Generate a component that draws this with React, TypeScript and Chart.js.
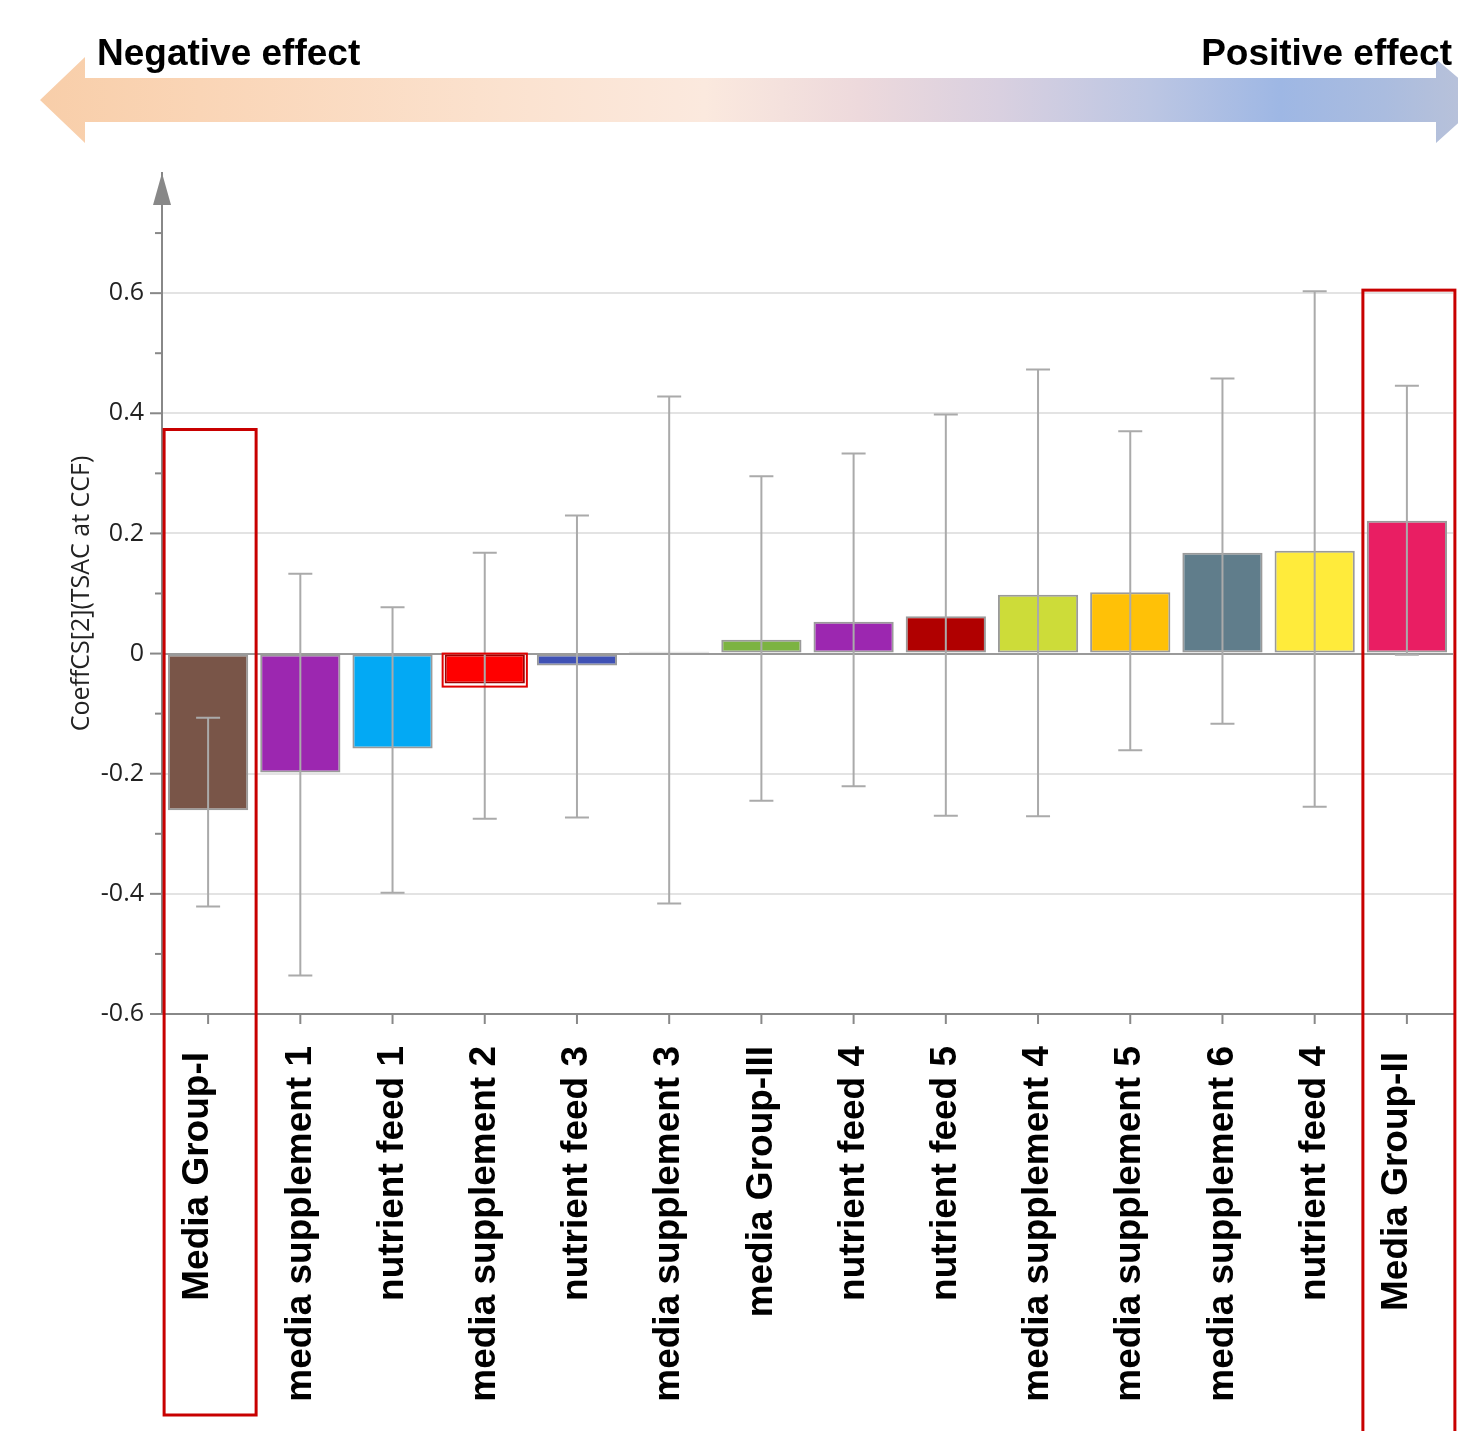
import React, { useEffect, useRef } from "react";
import { Chart, registerables } from "chart.js";

Chart.register(...registerables);

// ---------- data ----------
const categories = [
  "Media Group-I",
  "media supplement 1",
  "nutrient feed 1",
  "media supplement 2",
  "nutrient feed 3",
  "media supplement 3",
  "media Group-III",
  "nutrient feed 4",
  "nutrient feed 5",
  "media supplement 4",
  "media supplement 5",
  "media supplement 6",
  "nutrient feed 4",
  "Media Group-II",
];
const coefficients = [
  -0.261, -0.198, -0.158, -0.05, -0.02, 0.003, 0.023, 0.053, 0.062, 0.098, 0.102, 0.168, 0.171, 0.221,
];
const errorLow = [
  -0.421, -0.536, -0.398, -0.275, -0.273, -0.416, -0.245, -0.221, -0.27, -0.271, -0.161, -0.117, -0.255, -0.002,
];
const errorHigh = [
  -0.107, 0.133, 0.077, 0.168, 0.23, 0.428, 0.295, 0.333, 0.398, 0.473, 0.37, 0.458, 0.603, 0.446,
];
const barColors = [
  "#795548", "#9C27B0", "#03A9F4", "#FF0000", "#3F51B5", "#9E9E9E", "#7CB342",
  "#9C27B0", "#B00000", "#CDDC39", "#FFC107", "#607D8B", "#FFEB3B", "#E91E63",
];
const highlightedIndex = [0, 13];
const highlightTop = [0.373, 0.605];
const outlinedIndex = 3;
const yMin = -0.6;
const yMax = 0.8;
const yStep = 0.1;
const yTitle = "CoeffCS[2](TSAC at CCF)";
const negativeLabel = "Negative effect";
const positiveLabel = "Positive effect";

const LABEL_FONT = 'bold 37px "Liberation Sans", Arial, sans-serif';

const decorPlugin = {
  id: "decor",
  afterDatasetsDraw(chart: any) {
    const ctx = chart.ctx;
    const y = chart.scales.y;
    const meta = chart.getDatasetMeta(0);
    ctx.save();
    // error bars
    ctx.strokeStyle = "#aaaaaa";
    ctx.lineWidth = 2;
    meta.data.forEach((bar: any, i: number) => {
      const x = bar.x;
      const yh = y.getPixelForValue(errorHigh[i]);
      const yl = y.getPixelForValue(errorLow[i]);
      ctx.beginPath();
      ctx.moveTo(x, yh);
      ctx.lineTo(x, yl);
      ctx.moveTo(x - 12, yh);
      ctx.lineTo(x + 12, yh);
      ctx.moveTo(x - 12, yl);
      ctx.lineTo(x + 12, yl);
      ctx.stroke();
    });
    // outline around media supplement 2
    const ob = meta.data[outlinedIndex];
    if (ob) {
      const top = Math.min(ob.y, ob.base);
      const h = Math.abs(ob.base - ob.y);
      ctx.strokeStyle = "#E00000";
      ctx.lineWidth = 2;
      ctx.strokeRect(ob.x - ob.width / 2 - 2, top - 1, ob.width + 4, h + 4);
    }
    ctx.restore();
  },
  afterDraw(chart: any) {
    const ctx = chart.ctx;
    const xs = chart.scales.x;
    const ys = chart.scales.y;
    const area = chart.chartArea;
    ctx.save();

    // y tick marks
    ctx.strokeStyle = "#888888";
    ctx.lineWidth = 2;
    ys.ticks.forEach((t: any) => {
      const k = Math.round(t.value * 10);
      if (t.value > yMax - 0.05) return;
      const py = ys.getPixelForValue(t.value);
      const len = k % 2 === 0 ? 12 : 7;
      ctx.beginPath();
      ctx.moveTo(area.left - len, py);
      ctx.lineTo(area.left, py);
      ctx.stroke();
    });
    // y axis arrow head
    ctx.fillStyle = "#888888";
    ctx.beginPath();
    ctx.moveTo(area.left, area.top);
    ctx.lineTo(area.left - 9, area.top + 32);
    ctx.lineTo(area.left + 9, area.top + 32);
    ctx.closePath();
    ctx.fill();

    // x tick marks and labels
    categories.forEach((label, i) => {
      const px = xs.getPixelForTick(i);
      ctx.strokeStyle = "#888888";
      ctx.lineWidth = 2;
      ctx.beginPath();
      ctx.moveTo(px, area.bottom);
      ctx.lineTo(px, area.bottom + 10);
      ctx.stroke();
      const isHi = highlightedIndex.includes(i);
      ctx.save();
      ctx.translate(px + (isHi ? -10 : 0), area.bottom + (isHi ? 38 : 32));
      ctx.rotate(-Math.PI / 2);
      ctx.font = LABEL_FONT;
      ctx.fillStyle = "#000000";
      ctx.textAlign = "right";
      ctx.textBaseline = "middle";
      ctx.fillText(label, 0, 0);
      ctx.restore();
    });

    // red highlight boxes
    ctx.strokeStyle = "#C80000";
    ctx.lineWidth = 3;
    highlightedIndex.forEach((idx, j) => {
      const px = xs.getPixelForTick(idx);
      const top = ys.getPixelForValue(highlightTop[j]);
      const bottom = j === 0 ? chart.height - 16 : chart.height + 10;
      ctx.strokeRect(px - 44, top, 92, bottom - top);
    });

    // top arrow
    const cy = 100;
    const g = ctx.createLinearGradient(40, 0, 1485, 0);
    g.addColorStop(0, "#F8CEA9");
    g.addColorStop(0.11, "#FAD5B6");
    g.addColorStop(0.32, "#FBE2CF");
    g.addColorStop(0.46, "#FBE9DE");
    g.addColorStop(0.567, "#EDD9DC");
    g.addColorStop(0.664, "#D9D0E0");
    g.addColorStop(0.768, "#BCC6E3");
    g.addColorStop(0.858, "#9EB7E4");
    g.addColorStop(0.93, "#AABCDF");
    g.addColorStop(1, "#BCC3D8");
    ctx.fillStyle = g;
    ctx.beginPath();
    ctx.moveTo(40, cy);
    ctx.lineTo(85, cy - 43);
    ctx.lineTo(85, cy - 22);
    ctx.lineTo(1436, cy - 22);
    ctx.lineTo(1436, cy - 41);
    ctx.lineTo(1484, cy);
    ctx.lineTo(1436, cy + 43);
    ctx.lineTo(1436, cy + 22);
    ctx.lineTo(85, cy + 22);
    ctx.lineTo(85, cy + 43);
    ctx.closePath();
    ctx.fill();

    ctx.font = LABEL_FONT;
    ctx.fillStyle = "#000000";
    ctx.textBaseline = "alphabetic";
    ctx.textAlign = "left";
    ctx.fillText(negativeLabel, 97, 65);
    ctx.textAlign = "right";
    ctx.fillText(positiveLabel, 1452, 65);

    ctx.restore();
  },
};

export default function App() {
  const ref = useRef<HTMLCanvasElement | null>(null);
  useEffect(() => {
    if (!ref.current) return;
    const chart = new Chart(ref.current, {
      type: "bar",
      data: {
        labels: categories,
        datasets: [
          {
            data: coefficients,
            backgroundColor: barColors,
            borderColor: barColors.map((_, i) => (i === outlinedIndex ? "#A00000" : "#9a9a9a")),
            borderWidth: 2,
            borderSkipped: false,
            barPercentage: 0.87,
            categoryPercentage: 1,
          },
        ],
      },
      options: {
        animation: false,
        responsive: false,
        devicePixelRatio: 1,
        layout: { padding: { top: 173, right: 5, left: 0, bottom: 0 } },
        plugins: { legend: { display: false }, tooltip: { enabled: false }, title: { display: false } },
        scales: {
          x: {
            grid: { display: false, drawTicks: false },
            border: { display: true, color: "#888888", width: 2 },
            ticks: { display: false },
            afterFit: (s: any) => {
              s.height = 1431 - 1014;
            },
          },
          y: {
            min: yMin,
            max: yMax,
            afterFit: (s: any) => {
              s.width = 162;
            },
            border: { display: true, color: "#888888", width: 2 },
            grid: {
              drawTicks: false,
              lineWidth: 2,
              color: (c: any) => {
                const v = c.tick ? c.tick.value : 0;
                const k = Math.round(v * 10);
                if (k === 0) return "#9a9a9a";
                if (k % 2 === 0 && v < yMax - 0.05) return "#e3e3e3";
                return "rgba(0,0,0,0)";
              },
            },
            ticks: {
              stepSize: yStep,
              autoSkip: false,
              padding: 18,
              color: "#222222",
              font: { family: '"Open Sans", sans-serif', size: 25 },
              callback: (v: any) => {
                const k = Math.round(Number(v) * 10);
                if (k % 2 !== 0 || Number(v) > yMax - 0.05) return "";
                return String(k / 10);
              },
            },
            title: {
              display: true,
              text: yTitle,
              color: "#222222",
              font: { family: '"Open Sans", sans-serif', size: 25 },
              padding: { top: 67, bottom: 0 },
            },
          },
        },
      },
      plugins: [decorPlugin],
    });
    return () => chart.destroy();
  }, []);
  return (
    <div style={{ position: "absolute", left: 0, top: 0, width: 1458, height: 1431 }}>
      <canvas ref={ref} width={1458} height={1431} style={{ width: 1458, height: 1431, display: "block" }} />
    </div>
  );
}
